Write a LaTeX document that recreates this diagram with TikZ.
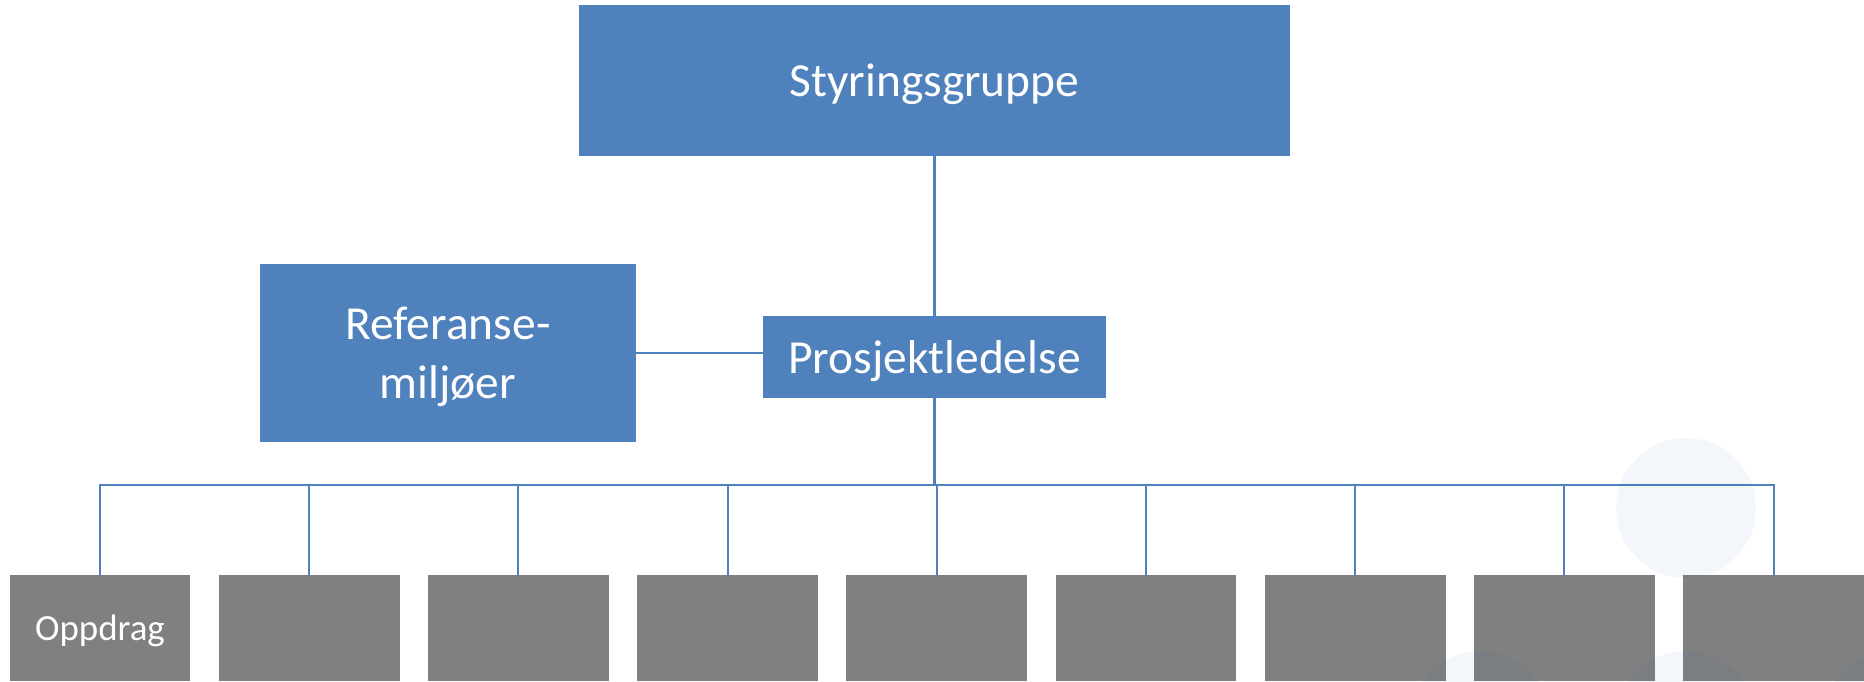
\documentclass[tikz,border=0pt]{standalone}
\usepackage{fontspec}
\setmainfont{Carlito}
\usepackage{xcolor}
\definecolor{accblue}{HTML}{4F81BD}
\definecolor{boxgrey}{HTML}{808080}
\definecolor{dotblue}{RGB}{36,109,200}

\begin{document}
\begin{tikzpicture}[x=0.02cm, y=-0.02cm,
		blubox/.style={fill=accblue, text=white, inner sep=0pt, text depth=0pt, align=center, font=\fontsize{27}{33.4}\selectfont},
		greybox/.style={fill=boxgrey, text=white, inner sep=0pt, text depth=0pt, minimum width=3.62cm, minimum height=2.12cm, font=\fontsize{21}{25}\selectfont},
		link/.style={draw=accblue, line width=1.2pt},
		dot/.style={fill=dotblue, fill opacity=0.055}]
			\useasboundingbox (0,0) rectangle (1864,681);
			\node[blubox, minimum width=14.22cm, minimum height=3.02cm] (styr) at (934.5,80.5) {Styringsgruppe};
			\node[blubox, minimum width=7.52cm, minimum height=3.56cm] (ref) at (448,353) {Referanse-\\milj\o er};
			\node[blubox, minimum width=6.86cm, minimum height=1.64cm] (pl) at (934.5,357) {Prosjektledelse};
			\node[greybox] (c1) at (100,628) {Oppdrag};
			\node[greybox] (c2) at (309.2,628) {};
			\node[greybox] (c3) at (518.4,628) {};
			\node[greybox] (c4) at (727.6,628) {};
			\node[greybox] (c5) at (936.8,628) {};
			\node[greybox] (c6) at (1146,628) {};
			\node[greybox] (c7) at (1355.2,628) {};
			\node[greybox] (c8) at (1564.4,628) {};
			\node[greybox] (c9) at (1773.6,628) {};
			\coordinate (bus) at (934.5,485);
			\draw[link] (styr) -- (pl);
			\draw[link] (ref.east) -- (ref.east -| pl.west);
			\draw[link] (pl) -- (bus);
			\draw[link] (c1.north) |- (bus);
			\draw[link] (c2.north) |- (bus);
			\draw[link] (c3.north) |- (bus);
			\draw[link] (c4.north) |- (bus);
			\draw[link] (c5.north) |- (bus);
			\draw[link] (c6.north) |- (bus);
			\draw[link] (c7.north) |- (bus);
			\draw[link] (c8.north) |- (bus);
			\draw[link] (c9.north) |- (bus);
			\fill[dot] (1686,508) circle[radius=1.4cm];
			\fill[dot] (1480,721) circle[radius=1.4cm];
			\fill[dot] (1686,721) circle[radius=1.4cm];
			\fill[dot] (1892,721) circle[radius=1.4cm];
		\end{tikzpicture}
\end{document}
